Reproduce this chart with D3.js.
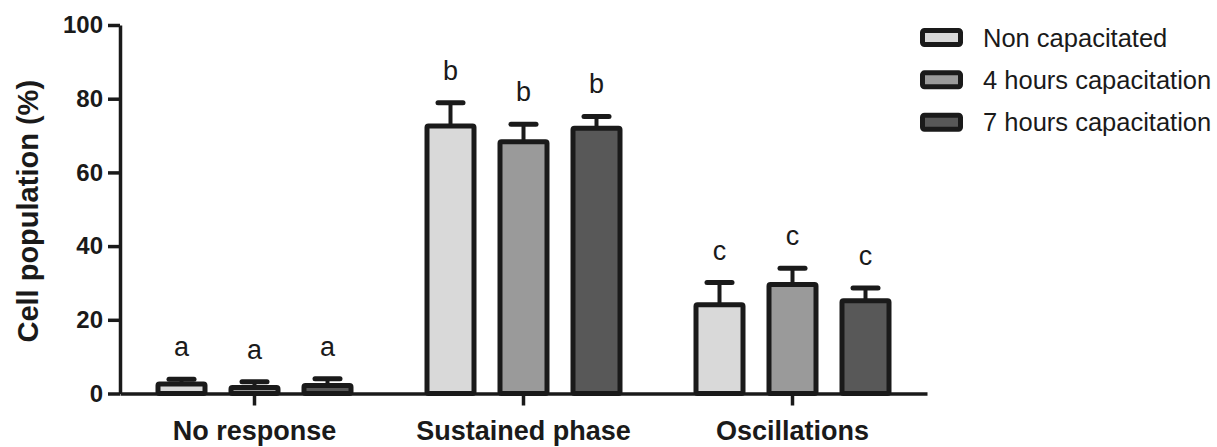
<!DOCTYPE html>
<meta charset="utf-8">
<style>
  body { margin: 0; background: #fff; }
  text { font-family: "Liberation Sans", Arial, sans-serif; fill: #1a1a1a; }
</style>
<body>
<div id="chart"></div>
<script src="https://d3js.org/d3.v7.min.js"></script>
<script>
  // values (mean and SEM, %)
  var categories = ["No response", "Sustained phase", "Oscillations"];
  var series = ["Non capacitated", "4 hours capacitation", "7 hours capacitation"];
  var means = [
    [2.6, 1.6, 2.2],
    [72.6, 68.3, 72.0],
    [24.1, 29.6, 25.2]
  ];
  var sems = [
    [1.3, 1.6, 1.8],
    [6.3, 4.8, 3.2],
    [6.0, 4.4, 3.4]
  ];
  var letters = [
    ["a", "a", "a"],
    ["b", "b", "b"],
    ["c", "c", "c"]
  ];
  var yTicks = [0, 20, 40, 60, 80, 100];

  var fills = ["#d9d9d9", "#9a9a9a", "#585858"];
  var dark = "#1a1a1a";

  var width = 1217, height = 447;

  var svg = d3.select("#chart").append("svg")
    .attr("width", width)
    .attr("height", height);

  var x0 = d3.scaleBand()
    .domain(categories)
    .range([120, 927]);

  var x1 = d3.scaleBand()
    .domain(series)
    .range([-109.5, 109.5]);

  var y = d3.scaleLinear()
    .domain([0, 100])
    .range([393.5, 25]);

  var barW = 47;

  // flatten for drawing
  var rows = [];
  categories.forEach(function(c, i) {
    series.forEach(function(s, j) {
      rows.push({cat: c, ser: s, j: j, mean: means[i][j], sem: sems[i][j], letter: letters[i][j]});
    });
  });

  function cx(d) {
    return x0(d.cat) + x0.bandwidth() / 2 + x1(d.ser) + x1.bandwidth() / 2;
  }

  // error bars (upper only) behind bars
  var err = svg.append("g");
  err.selectAll("line.stem")
    .data(rows)
    .enter().append("line")
    .attr("x1", cx).attr("x2", cx)
    .attr("y1", function(d) { return y(d.mean); })
    .attr("y2", function(d) { return y(d.mean + d.sem); })
    .style("stroke", dark)
    .style("stroke-width", 4);
  err.selectAll("line.cap")
    .data(rows)
    .enter().append("line")
    .attr("x1", function(d) { return cx(d) - 12.5; })
    .attr("x2", function(d) { return cx(d) + 12.5; })
    .attr("y1", function(d) { return y(d.mean + d.sem); })
    .attr("y2", function(d) { return y(d.mean + d.sem); })
    .style("stroke", dark)
    .style("stroke-width", 5)
    .style("stroke-linecap", "round");

  // bars
  svg.append("g").selectAll("rect")
    .data(rows)
    .enter().append("rect")
    .attr("x", function(d) { return cx(d) - barW / 2; })
    .attr("y", function(d) { return y(d.mean); })
    .attr("width", barW)
    .attr("height", function(d) { return y(0) - y(d.mean); })
    .attr("rx", 1.5)
    .style("fill", function(d) { return fills[d.j]; })
    .style("stroke", dark)
    .style("stroke-width", 5);

  // significance letters
  svg.append("g").selectAll("text")
    .data(rows)
    .enter().append("text")
    .attr("x", cx)
    .attr("y", function(d) { return y(d.mean + d.sem) - 23; })
    .attr("text-anchor", "middle")
    .style("font-size", "27px")
    .text(function(d) { return d.letter; });

  // axes
  var yAxis = d3.axisLeft(y)
    .tickValues(yTicks)
    .tickSize(12)
    .tickSizeOuter(0)
    .tickPadding(5);
  var gy = svg.append("g")
    .attr("transform", "translate(120,0)")
    .call(yAxis);
  gy.selectAll("text")
    .style("font-size", "24px")
    .style("font-weight", "bold")
    .style("fill", dark);

  var xAxis = d3.axisBottom(x0)
    .tickSize(12)
    .tickSizeOuter(0)
    .tickPadding(15);
  var gx = svg.append("g")
    .attr("transform", "translate(0," + y(0) + ")")
    .call(xAxis);
  gx.selectAll("text")
    .style("font-size", "27px")
    .style("font-weight", "bold")
    .style("fill", dark);

  svg.selectAll(".domain, .tick line")
    .style("stroke", dark)
    .style("stroke-width", 3.5);

  // y title
  svg.append("text")
    .attr("transform", "translate(38," + ((y(0) + y(100)) / 2 + 2) + ") rotate(-90)")
    .attr("text-anchor", "middle")
    .style("font-size", "29px")
    .style("font-weight", "bold")
    .text("Cell population (%)");

  // legend
  var ly = d3.scalePoint()
    .domain(series)
    .range([37.5, 122.2]);

  var legend = svg.append("g").selectAll("g")
    .data(series)
    .enter().append("g")
    .attr("transform", function(d) { return "translate(0," + ly(d) + ")"; });

  legend.append("rect")
    .attr("x", 922.5)
    .attr("y", -7)
    .attr("width", 38)
    .attr("height", 14)
    .attr("rx", 2)
    .style("fill", function(d, i) { return fills[i]; })
    .style("stroke", dark)
    .style("stroke-width", 5);

  legend.append("text")
    .attr("x", 983)
    .attr("y", 9)
    .style("font-size", "25.5px")
    .text(function(d) { return d; });
</script>
</body>
